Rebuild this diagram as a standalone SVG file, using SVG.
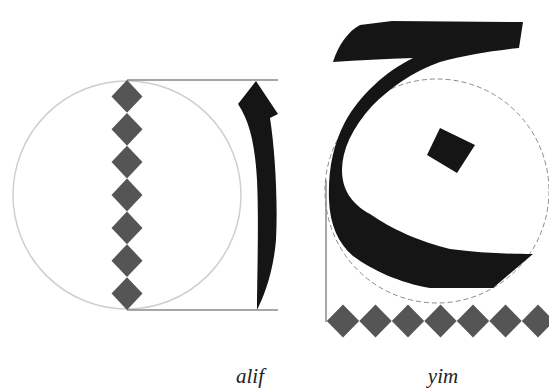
<svg xmlns="http://www.w3.org/2000/svg" width="549" height="389" viewBox="0 0 549 389">
<style>
.guide{fill:none;stroke:#cfcfcf;stroke-width:1.5}
.rule{fill:none;stroke:#8a8a8a;stroke-width:1.5}
.dash{fill:none;stroke:#8a8a8a;stroke-width:1;stroke-dasharray:5 3}
.dia{fill:#555}
.ink{fill:#151515}
.lbl{font-family:"Liberation Serif",serif;font-style:italic;font-size:21px;fill:#222;text-anchor:middle}
</style>
<defs>
<path id="d" d="M0,-16.4 L15.5,0 L0,16.4 L-15.5,0 Z"/>
<path id="dh" d="M0,-16.5 L16.2,0 L0,16.5 L-16.2,0 Z"/>
</defs>
<rect width="549" height="389" fill="#fff"/>
<g id="alif">
<circle class="guide" cx="127" cy="195" r="114"/>
<line class="rule" x1="127" y1="80" x2="278" y2="80"/>
<line class="rule" x1="127" y1="310" x2="278" y2="310"/>
<g class="dia">
<use href="#d" x="127" y="96.4"/>
<use href="#d" x="127" y="129.3"/>
<use href="#d" x="127" y="162.1"/>
<use href="#d" x="127" y="195"/>
<use href="#d" x="127" y="227.9"/>
<use href="#d" x="127" y="260.7"/>
<use href="#d" x="127" y="293.6"/>
</g>
<path class="ink" d="M256,81 L278,114 L270,118 C275,150 278,200 276,240 C273,275 263,298 257,310 C257,280 259,220 257,180 C255,145 250,122 238,104 Z"/>
</g>
<g id="yim">
<circle class="dash" cx="437" cy="191" r="112"/>
<line class="rule" x1="326" y1="180" x2="326" y2="322"/>
<path class="ink" d="M333,62 C338,46 348,31 360,25 L392,21 L523,22 L519,48 C492,51 465,55 440,62 C412,72 390,88 372,106 C352,128 342,150 342,170 C342,188 350,203 370,214 C390,228 420,242 450,249 C480,253 510,254 533,254 L493,288 L430,288 C400,283 372,270 353,256 C338,243 330,225 329,200 C328,170 333,145 345,122 C360,95 385,72 413,58 C385,59 358,60 333,62 Z"/>
<path class="ink" d="M440,128 L475,145 L457,173 L427,155 Z"/>
<g class="dia">
<use href="#dh" x="343" y="321"/>
<use href="#dh" x="375.5" y="321"/>
<use href="#dh" x="408" y="321"/>
<use href="#dh" x="440.5" y="321"/>
<use href="#dh" x="473" y="321"/>
<use href="#dh" x="505.5" y="321"/>
<use href="#dh" x="538" y="321"/>
</g>
</g>
<g id="labels">
<text class="lbl" x="250" y="383">alif</text>
<text class="lbl" x="443" y="383">yim</text>
</g>
</svg>
